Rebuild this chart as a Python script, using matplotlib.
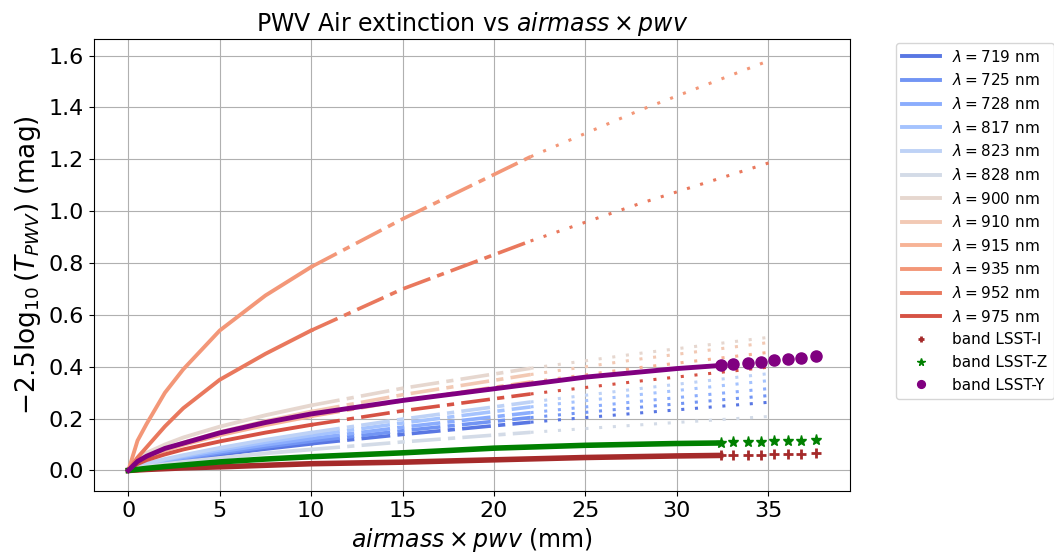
import matplotlib.pyplot as plt
import numpy as np

# wavelengths of the PWV extinction curves
lam_nm = [719, 725, 728, 817, 823, 828, 900, 910, 915, 935, 952, 975]

# airmass x pwv (mm) where the curves were read
lam_x = [0, 0.5, 1, 2, 3, 5, 7.5, 10, 15, 22, 28, 35.2]

ext_719 = [0, 0.011, 0.018, 0.031, 0.042, 0.061, 0.083, 0.103, 0.139, 0.186, 0.222, 0.264]
ext_725 = [0, 0.012, 0.020, 0.034, 0.046, 0.067, 0.091, 0.113, 0.153, 0.204, 0.244, 0.290]
ext_728 = [0, 0.013, 0.022, 0.037, 0.050, 0.073, 0.099, 0.123, 0.167, 0.223, 0.267, 0.317]
ext_817 = [0, 0.014, 0.024, 0.041, 0.055, 0.080, 0.109, 0.135, 0.183, 0.245, 0.293, 0.348]
ext_823 = [0, 0.015, 0.026, 0.044, 0.059, 0.087, 0.118, 0.146, 0.198, 0.264, 0.316, 0.375]
ext_828 = [0, 0.009, 0.015, 0.024, 0.033, 0.048, 0.066, 0.081, 0.110, 0.147, 0.176, 0.209]
ext_900 = [0, 0.046, 0.068, 0.100, 0.127, 0.169, 0.213, 0.251, 0.317, 0.394, 0.452, 0.515]
ext_910 = [0, 0.035, 0.054, 0.084, 0.107, 0.148, 0.190, 0.227, 0.292, 0.370, 0.430, 0.495]
ext_915 = [0, 0.033, 0.050, 0.077, 0.099, 0.136, 0.175, 0.209, 0.269, 0.341, 0.397, 0.457]
ext_935 = [0, 0.115, 0.180, 0.300, 0.390, 0.540, 0.675, 0.785, 0.970, 1.210, 1.390, 1.585]
ext_952 = [0, 0.050, 0.090, 0.170, 0.240, 0.350, 0.450, 0.540, 0.700, 0.885, 1.030, 1.190]
ext_975 = [0, 0.025, 0.040, 0.062, 0.081, 0.112, 0.146, 0.176, 0.230, 0.295, 0.345, 0.400]

ext_all = [ext_719, ext_725, ext_728, ext_817, ext_823, ext_828,
           ext_900, ext_910, ext_915, ext_935, ext_952, ext_975]

# LSST bands: dense part and the sparse tail
band_x = [0, 0.5, 1, 2, 3, 5, 7.5, 10, 15, 20, 25, 30, 32.4]
band_i = [0, 0.002, 0.004, 0.007, 0.010, 0.014, 0.020, 0.026, 0.032, 0.041, 0.050, 0.056, 0.058]
band_z = [0, 0.004, 0.008, 0.015, 0.021, 0.033, 0.044, 0.053, 0.068, 0.086, 0.097, 0.104, 0.106]
band_y = [0, 0.035, 0.055, 0.085, 0.105, 0.145, 0.185, 0.218, 0.270, 0.315, 0.360, 0.393, 0.405]

tail_x = [32.4, 33.1, 33.9, 34.6, 35.3, 36.1, 36.8, 37.6]
tail_i = [0.058, 0.059, 0.060, 0.061, 0.062, 0.064, 0.065, 0.067]
tail_z = [0.106, 0.108, 0.109, 0.110, 0.112, 0.113, 0.115, 0.116]
tail_y = [0.405, 0.410, 0.415, 0.420, 0.425, 0.430, 0.435, 0.440]

fig, ax = plt.subplots(figsize=(10.54, 5.53), dpi=100)
fig.subplots_adjust(left=0.0892, right=0.8065, top=0.9295, bottom=0.1121)

colors = plt.cm.coolwarm(np.linspace(0.1, 0.9, len(lam_nm)))

for nm, ys, c in zip(lam_nm, ext_all, colors):
    ax.plot(lam_x[:8], ys[:8], '-', color=c, lw=2.8, label=rf'$\lambda = {nm}$ nm')
    ax.plot(lam_x[7:10], ys[7:10], color=c, lw=2.6, dashes=(8, 2, 2, 2))
    ax.plot(lam_x[9:], ys[9:], color=c, lw=2.2, dashes=(1, 3.5))

ax.plot(band_x, band_i, color='brown', lw=4)
ax.plot(tail_x, tail_i, '+', color='brown', ms=7, mew=2, label='band LSST-I')
ax.plot(band_x, band_z, color='green', lw=4)
ax.plot(tail_x, tail_z, '*', color='green', ms=8, label='band LSST-Z')
ax.plot(band_x, band_y, color='purple', lw=3.5)
ax.plot(tail_x, tail_y, 'o', color='purple', ms=8, label='band LSST-Y')

ax.grid(True)
ax.tick_params(labelsize=16)
ax.set_title(r'PWV Air extinction vs $airmass \times pwv$', fontsize=17)
ax.set_xlabel(r'$airmass \times pwv$ (mm)', fontsize=17)
ax.set_ylabel(r'$-2.5\log_{10}(T_{PWV})$ (mag)', fontsize=19)

ax.legend(loc='upper left', bbox_to_anchor=(0.850, 0.923), bbox_transform=fig.transFigure,
          borderaxespad=0, fontsize=11, handlelength=2.5, markerscale=0.7)

fig.savefig('out.png', dpi=100)
